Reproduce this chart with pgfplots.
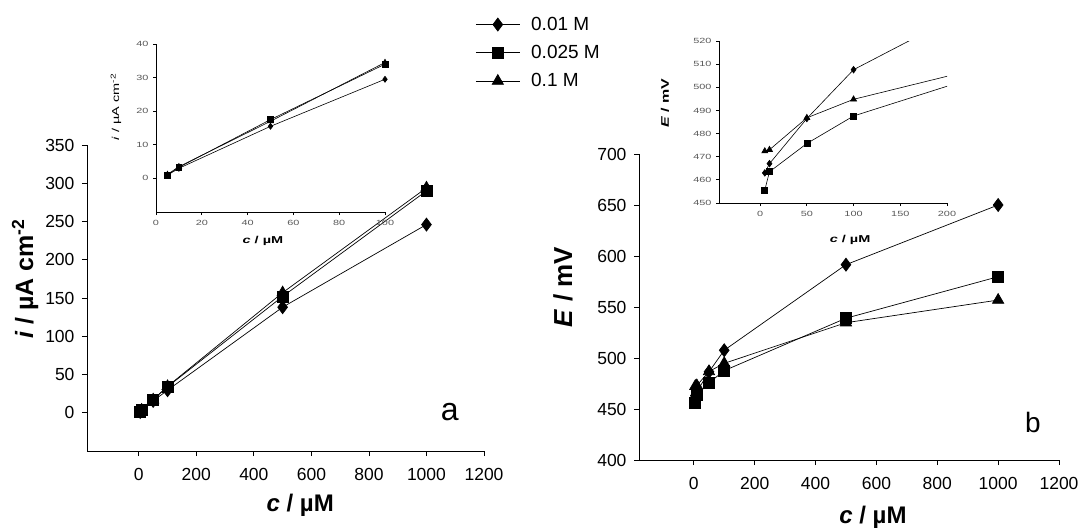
\documentclass[border=0pt]{standalone}
\usepackage{fontspec}
\setmainfont{Liberation Sans}
\newfontfamily\insetfont[FakeStretch=1.45]{Liberation Sans}
\usepackage{pgfplots}
\pgfplotsset{compat=1.18}

\pgfplotsset{
  base/.style={
    scale only axis,
    axis lines=left,
    axis line style={-, line width=0.9pt, black},
    tick align=outside,
    tick style={black, line width=0.8pt},
    /pgf/number format/assume math mode=true,
    /pgf/number format/set thousands separator={},
    clip mode=individual,
    every axis plot/.append style={black, line width=0.7pt},
  },
  mainax/.style={base,
    major tick length=5pt,
    tick label style={font=\fontsize{17.5}{19}\selectfont},
    xticklabel style={yshift=-9pt},
    yticklabel style={xshift=-4pt},
  },
  insetax/.style={base,
    major tick length=3pt,
    tick label style={font=\insetfont\fontsize{7.5}{9}\selectfont, text=black!65},
    xticklabel style={yshift=-2pt},
    yticklabel style={xshift=-1pt},
  },
}

\begin{document}
\begin{tikzpicture}[x=1pt,y=1pt]
\useasboundingbox (0,0) rectangle (1091,528);

% ---------------- Panel a main ----------------
\begin{axis}[mainax,
  at={(87pt,77pt)}, anchor=south west,
  width=397pt, height=306pt,
  xmin=-180, xmax=1200, ymin=-50, ymax=350,
  xtick={0,200,...,1200}, ytick={0,50,...,350},
  xlabel={\textbf{\textit{c} / µM}},
  ylabel={\textbf{\textit{i} / µA cm\textsuperscript{-2}}},
  xlabel style={font=\fontsize{24}{26}\selectfont, at={(rel axis cs:0.537,-0.176)}, anchor=center},
  ylabel style={font=\fontsize{25}{27}\selectfont, at={(rel axis cs:-0.156,0.562)}, anchor=center},
  legend style={draw=none, fill=none, at={(rel axis cs:0.978,1.425)}, anchor=north west,
    font=\fontsize{19}{21}\selectfont, row sep=9.5pt, inner sep=0pt, cells={anchor=west},
    /tikz/every odd column/.append style={column sep=9pt}},
  legend image code/.code={\draw[mark repeat=2,mark phase=2,#1] plot coordinates {(0pt,0pt) (22pt,0pt) (44pt,0pt)};},
]
\addplot[mark=diamond*, mark size=6.5pt] coordinates {(5,1)(10,3)(50,15.5)(100,29.5)(500,138)(1000,246)};
\addlegendentry{0.01 M}
\addplot[mark=square*, mark size=5.5pt] coordinates {(5,1)(10,3.3)(50,17.5)(100,34)(500,152)(1000,290)};
\addlegendentry{0.025 M}
\addplot[mark=triangle*, mark size=6.5pt] coordinates {(5,1.2)(10,3.5)(50,17)(100,34.5)(500,157)(1000,294)};
\addlegendentry{0.1 M}
\node[font=\fontsize{32}{34}\selectfont] at (rel axis cs:0.914,0.127) {a};
\end{axis}

% ---------------- Panel b main ----------------
\begin{axis}[mainax,
  at={(639pt,68pt)}, anchor=south west,
  width=420pt, height=306pt,
  xmin=-180, xmax=1200, ymin=400, ymax=700,
  xtick={0,200,...,1200}, ytick={400,450,...,700},
  xlabel={\textbf{\textit{c} / µM}},
  ylabel={\textbf{\textit{E} / mV}},
  xlabel style={font=\fontsize{24}{26}\selectfont, at={(rel axis cs:0.557,-0.186)}, anchor=center},
  ylabel style={font=\fontsize{26}{28}\selectfont, at={(rel axis cs:-0.181,0.565)}, anchor=center},
]
\addplot[mark=diamond*, mark size=6.5pt] coordinates {(5,463)(10,467)(50,486.5)(100,507.6)(500,591.5)(1000,650)};
\addplot[mark=square*, mark size=5.5pt] coordinates {(5,455.6)(10,463.5)(50,475.7)(100,487.6)(500,539)(1000,579.7)};
\addplot[mark=triangle*, mark size=6.5pt] coordinates {(5,472.4)(10,473)(50,486.8)(100,494.8)(500,534.6)(1000,556.8)};
\node[font=\fontsize{28}{30}\selectfont] at (rel axis cs:0.938,0.121) {b};
\end{axis}

% ---------------- Inset a ----------------
\begin{axis}[insetax,
  at={(156pt,316pt)}, anchor=south west,
  width=229pt, height=168pt,
  xmin=0, xmax=100, ymin=-10, ymax=40,
  xtick={0,20,...,100}, ytick={0,10,...,40},
  xlabel={\textbf{\textit{c} / µM}},
  ylabel={\textit{i} / µA cm\textsuperscript{-2}},
  xlabel style={font=\insetfont\fontsize{10}{12}\selectfont, at={(rel axis cs:0.467,-0.173)}, anchor=center},
  ylabel style={font=\insetfont\fontsize{10}{12}\selectfont, at={(rel axis cs:-0.175,0.625)}, anchor=center},
]
\addplot[mark=diamond*, mark size=3pt, line width=0.6pt] coordinates {(5,1)(10,3)(50,15.5)(100,29.5)(500,138)(1000,246)};
\addplot[mark=square*, mark size=2.8pt, line width=0.6pt] coordinates {(5,1)(10,3.3)(50,17.5)(100,34)(500,152)(1000,290)};
\addplot[mark=triangle*, mark size=3.2pt, line width=0.6pt] coordinates {(5,1.2)(10,3.5)(50,17)(100,34.5)(500,157)(1000,294)};
\end{axis}

% ---------------- Inset b ----------------
\begin{axis}[insetax,
  at={(719pt,325pt)}, anchor=south west,
  width=228pt, height=162pt,
  xmin=-44, xmax=200, ymin=450, ymax=520,
  xtick={0,50,...,200}, ytick={450,460,...,520},
  xlabel={\textbf{\textit{c} / µM}},
  ylabel={\textbf{\textit{E} / mV}},
  xlabel style={font=\insetfont\fontsize{10}{12}\selectfont, at={(rel axis cs:0.575,-0.228)}, anchor=center},
  ylabel style={font=\insetfont\fontsize{11}{13}\selectfont, at={(rel axis cs:-0.237,0.617)}, anchor=center},
]
\addplot[mark=diamond*, mark size=3.3pt, line width=0.6pt] coordinates {(5,463)(10,467)(50,486.5)(100,507.6)(500,591.5)(1000,650)};
\addplot[mark=square*, mark size=3pt, line width=0.6pt] coordinates {(5,455.6)(10,463.5)(50,475.7)(100,487.6)(500,539)(1000,579.7)};
\addplot[mark=triangle*, mark size=3.5pt, line width=0.6pt] coordinates {(5,472.4)(10,473)(50,486.8)(100,494.8)(500,534.6)(1000,556.8)};
\end{axis}
\end{tikzpicture}
\end{document}
